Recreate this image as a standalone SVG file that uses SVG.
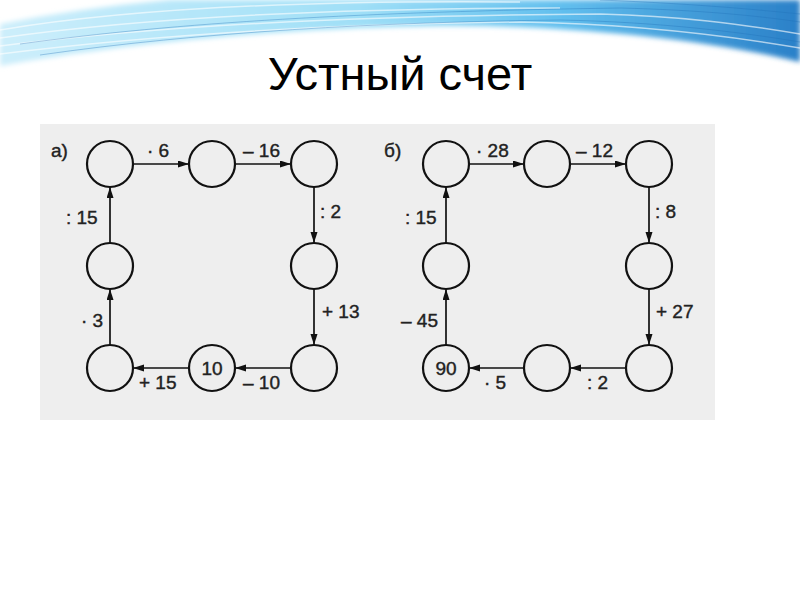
<svg xmlns="http://www.w3.org/2000/svg" width="800" height="600" viewBox="0 0 800 600">
<defs>
<linearGradient id="band" x1="0" y1="0" x2="1" y2="0">
<stop offset="0" stop-color="#cdeefb"/>
<stop offset="0.45" stop-color="#9fdff7"/>
<stop offset="0.7" stop-color="#62bfee"/>
<stop offset="1" stop-color="#2a80c8"/>
</linearGradient>
<filter id="soft" x="-5%" y="-50%" width="110%" height="200%"><feGaussianBlur stdDeviation="2.5"/></filter>
<marker id="ah" markerUnits="userSpaceOnUse" markerWidth="12" markerHeight="8" refX="11" refY="3.5" orient="auto">
<path d="M0,0 L11,3.5 L0,7 Z" fill="#111"/>
</marker>
<style>
.c{fill:none;stroke:#111;stroke-width:2.2}
.e{stroke:#111;stroke-width:1.7;fill:none;marker-end:url(#ah)}
.t{font-family:"Liberation Sans",Arial,sans-serif;font-size:19px;fill:#222;stroke:#222;stroke-width:0.4}
.n{font-family:"Liberation Sans",Arial,sans-serif;font-size:19px;fill:#222;stroke:#222;stroke-width:0.4;text-anchor:middle}
.w{fill:none;stroke:#fff;stroke-opacity:0.6;stroke-width:1.5}
.d{fill:none;stroke:#1f6fb8;stroke-opacity:0.35;stroke-width:1}
</style>
</defs>
<rect width="800" height="600" fill="#fff"/>
<g id="header">
<path d="M0,24 Q80,8 170,0 L800,0 L800,62 C700,38 560,24 430,26 C260,29 110,46 0,66 Z" fill="url(#band)" filter="url(#soft)"/>
<path class="w" d="M0,30 C120,10 300,0 520,2"/>
<path class="w" d="M0,38 C140,18 320,8 560,8"/>
<path class="w" d="M0,46 C160,26 340,16 600,14 C680,16 740,24 800,34"/>
<path class="w" d="M0,54 C160,34 340,24 520,22 C640,24 730,36 800,48"/>
<path class="d" d="M20,44 C180,22 360,12 620,8 C700,10 760,16 800,22"/>
<path class="d" d="M40,55 C200,32 380,22 560,20 C660,22 740,32 800,42"/>
<path class="d" d="M600,0 C700,4 760,10 800,14"/>
</g>
<text x="400" y="90" text-anchor="middle" font-family="'Liberation Sans',Arial,sans-serif" font-size="47" fill="#000">Устный счет</text>
<rect id="panel" x="40" y="124" width="675" height="296" fill="#eeeeee"/>
<g id="connectors">
<line class="e" x1="133" y1="164" x2="189" y2="164"/>
<line class="e" x1="235" y1="164" x2="291" y2="164"/>
<line class="e" x1="314" y1="187" x2="314" y2="243"/>
<line class="e" x1="314" y1="289" x2="314" y2="345"/>
<line class="e" x1="291" y1="368" x2="235" y2="368"/>
<line class="e" x1="189" y1="368" x2="133" y2="368"/>
<line class="e" x1="110" y1="345" x2="110" y2="289"/>
<line class="e" x1="110" y1="243" x2="110" y2="187"/>
<line class="e" x1="469" y1="164" x2="524" y2="164"/>
<line class="e" x1="570" y1="164" x2="626" y2="164"/>
<line class="e" x1="649" y1="187" x2="649" y2="243"/>
<line class="e" x1="649" y1="289" x2="649" y2="345"/>
<line class="e" x1="626" y1="368" x2="570" y2="368"/>
<line class="e" x1="524" y1="368" x2="469" y2="368"/>
<line class="e" x1="446" y1="345" x2="446" y2="289"/>
<line class="e" x1="446" y1="243" x2="446" y2="187"/>
</g>
<g id="labels">
<text class="t" x="51" y="157">а)</text>
<text class="t" x="147" y="157">· 6</text>
<text class="t" x="243" y="157">– 16</text>
<text class="t" x="320" y="218">: 2</text>
<text class="t" x="66" y="224">: 15</text>
<text class="t" x="81" y="327">· 3</text>
<text class="t" x="322" y="318">+ 13</text>
<text class="t" x="139" y="389">+ 15</text>
<text class="t" x="243" y="389">– 10</text>
<text class="t" x="384" y="157">б)</text>
<text class="t" x="476" y="157">· 28</text>
<text class="t" x="576" y="157">– 12</text>
<text class="t" x="655" y="218">: 8</text>
<text class="t" x="405" y="224">: 15</text>
<text class="t" x="401" y="327">– 45</text>
<text class="t" x="656" y="318">+ 27</text>
<text class="t" x="484" y="389">· 5</text>
<text class="t" x="587" y="389">: 2</text>
</g>
<g id="a1"><circle class="c" cx="110" cy="164" r="23"/></g>
<g id="a2"><circle class="c" cx="212" cy="164" r="23"/></g>
<g id="a3"><circle class="c" cx="314" cy="164" r="23"/></g>
<g id="a4"><circle class="c" cx="314" cy="266" r="23"/></g>
<g id="a5"><circle class="c" cx="314" cy="368" r="23"/></g>
<g id="a6"><circle class="c" cx="212" cy="368" r="23"/><text class="n" x="212" y="375">10</text></g>
<g id="a7"><circle class="c" cx="110" cy="368" r="23"/></g>
<g id="a8"><circle class="c" cx="110" cy="266" r="23"/></g>
<g id="b1"><circle class="c" cx="446" cy="164" r="23"/></g>
<g id="b2"><circle class="c" cx="547" cy="164" r="23"/></g>
<g id="b3"><circle class="c" cx="649" cy="164" r="23"/></g>
<g id="b4"><circle class="c" cx="649" cy="266" r="23"/></g>
<g id="b5"><circle class="c" cx="649" cy="368" r="23"/></g>
<g id="b6"><circle class="c" cx="547" cy="368" r="23"/></g>
<g id="b7"><circle class="c" cx="446" cy="368" r="23"/><text class="n" x="446" y="375">90</text></g>
<g id="b8"><circle class="c" cx="446" cy="266" r="23"/></g>
</svg>
